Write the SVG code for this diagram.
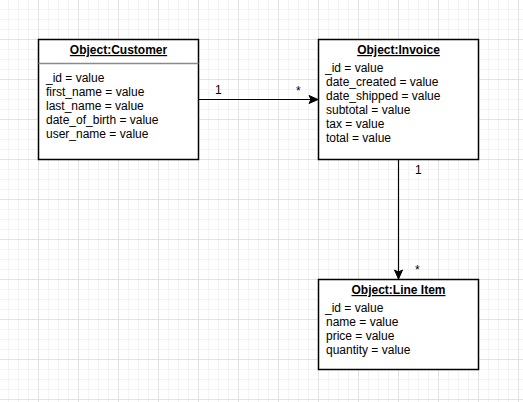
<svg xmlns="http://www.w3.org/2000/svg" width="523" height="402" viewBox="0 0 523 402">
<style>
.box{fill:#fff;stroke:#000;stroke-width:1.5}
.t{font-family:"Liberation Sans",Arial,sans-serif;font-size:12px;fill:#000}
.h{font-weight:bold;text-decoration:underline;text-anchor:middle}
.edge{stroke:#000;stroke-width:1.2;fill:none}
</style>
<defs>
<pattern id="minor" patternUnits="userSpaceOnUse" x="8" y="9" width="10" height="10">
<path d="M0.5 0V10M0 0.5H10" stroke="#f3f3f3" stroke-width="1" fill="none"/>
</pattern>
<pattern id="major" patternUnits="userSpaceOnUse" x="38" y="39" width="40" height="40">
<path d="M0.5 0V40M0 0.5H40" stroke="#e2e2e2" stroke-width="1" fill="none"/>
</pattern>
<marker id="arr" markerUnits="userSpaceOnUse" markerWidth="12" markerHeight="12" viewBox="0 0 12 12" refX="10" refY="6" orient="auto">
<path d="M1 2 L10 6 L1 10 L3 6 Z" fill="#000" stroke="#000" stroke-width="1"/>
</marker>
</defs>
<rect width="523" height="402" fill="#fff"/>
<rect width="523" height="402" fill="url(#minor)"/>
<rect width="523" height="402" fill="url(#major)"/>
<g id="connectors">
<path class="edge" d="M198.5 99.5H318" marker-end="url(#arr)"/>
<path class="edge" d="M398.5 159.5V279" marker-end="url(#arr)"/>
<text class="t" x="215" y="94">1</text>
<text class="t" x="296" y="95">*</text>
<text class="t" x="415" y="174">1</text>
<text class="t" x="415" y="274">*</text>
</g>
<g id="customer">
<rect class="box" x="38.5" y="39.5" width="160" height="120"/>
<line x1="38.5" y1="63.5" x2="198.5" y2="63.5" stroke="#8a8a8a" stroke-width="1.5"/>
<text class="t h" x="118.5" y="54">Object:Customer</text>
<text class="t" x="46" y="81.7">_id = value</text>
<text class="t" x="46" y="95.7">first_name = value</text>
<text class="t" x="46" y="109.7">last_name = value</text>
<text class="t" x="46" y="123.7">date_of_birth = value</text>
<text class="t" x="46" y="137.7">user_name = value</text>
</g>
<g id="invoice">
<rect class="box" x="318.5" y="39.5" width="160" height="120"/>
<text class="t h" x="398.5" y="54">Object:Invoice</text>
<text class="t" x="325" y="71.7">_id = value</text>
<text class="t" x="326" y="85.7">date_created = value</text>
<text class="t" x="326" y="99.7">date_shipped = value</text>
<text class="t" x="326" y="113.7">subtotal = value</text>
<text class="t" x="326" y="127.7">tax = value</text>
<text class="t" x="326" y="141.7">total = value</text>
</g>
<g id="lineitem">
<rect class="box" x="318.5" y="279.5" width="160" height="90"/>
<text class="t h" x="398.5" y="294">Object:Line Item</text>
<text class="t" x="325" y="311.7">_id = value</text>
<text class="t" x="326" y="325.7">name = value</text>
<text class="t" x="326" y="339.7">price = value</text>
<text class="t" x="326" y="353.7">quantity = value</text>
</g>
</svg>
